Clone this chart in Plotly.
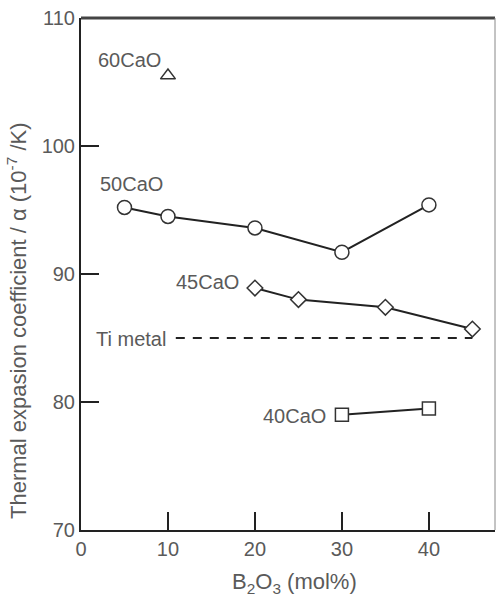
import plotly.graph_objects as go

# Data
cao60_x = [10]
cao60_y = [105.5]
cao50_x = [5, 10, 20, 30, 40]
cao50_y = [95.2, 94.5, 93.6, 91.7, 95.4]
cao45_x = [20, 25, 35, 45]
cao45_y = [88.9, 88.0, 87.4, 85.7]
cao40_x = [30, 40]
cao40_y = [79.0, 79.5]
ti_x = [10.9, 45]
ti_y = [85, 85]

x_ticks = [0, 10, 20, 30, 40]
y_ticks = [70, 80, 90, 100, 110]

FONT = "Liberation Sans, Arial, sans-serif"
TXT = "#5a5a5a"
LINE = "#222222"

fig = go.Figure()

fig.add_trace(go.Scatter(x=ti_x, y=ti_y, mode="lines",
                         line=dict(color=LINE, width=2, dash="9px,8px"),
                         showlegend=False, hoverinfo="skip"))

marker_line = dict(color="#333333", width=1.5)
fig.add_trace(go.Scatter(x=cao50_x, y=cao50_y, mode="lines+markers",
                         line=dict(color=LINE, width=2),
                         marker=dict(symbol="circle", size=14, color="white", line=marker_line),
                         showlegend=False))
fig.add_trace(go.Scatter(x=cao45_x, y=cao45_y, mode="lines+markers",
                         line=dict(color=LINE, width=2),
                         marker=dict(symbol="diamond", size=12, color="white", line=marker_line),
                         showlegend=False))
fig.add_trace(go.Scatter(x=cao40_x, y=cao40_y, mode="lines+markers",
                         line=dict(color=LINE, width=2),
                         marker=dict(symbol="square", size=13, color="white", line=marker_line),
                         showlegend=False))
fig.add_trace(go.Scatter(x=cao60_x, y=cao60_y, mode="markers",
                         marker=dict(symbol="triangle-up", size=13, color="white", line=marker_line),
                         showlegend=False))

labels = [
    ("60CaO", 5.6, 106.7),
    ("50CaO", 5.8, 97.0),
    ("45CaO", 14.6, 89.4),
    ("40CaO", 24.6, 78.9),
    ("Ti metal", 5.8, 84.9),
]
for t, x, y in labels:
    fig.add_annotation(x=x, y=y, text=t, showarrow=False, xanchor="center", yanchor="middle",
                       font=dict(family=FONT, size=20, color=TXT))

# axis titles
fig.add_annotation(xref="paper", yref="paper", x=(294 - 81) / 414, y=-(583 - 530) / 512,
                   xanchor="center", yanchor="middle",
                   text="B<sub>2</sub>O<sub>3</sub> (mol%)", showarrow=False,
                   font=dict(family=FONT, size=22, color=TXT))
fig.add_annotation(xref="paper", yref="paper", x=-(81 - 17) / 414, y=(530 - 321) / 512,
                   xanchor="center", yanchor="middle",
                   text="Thermal expasion coefficient / α (10<sup>-7</sup> /K)", showarrow=False,
                   textangle=-90, font=dict(family=FONT, size=22, color=TXT))

fig.update_xaxes(range=[0, 47.6], tickvals=x_ticks, ticks="inside", ticklen=18,
                 tickwidth=2, tickcolor=LINE, showline=True, linewidth=2, linecolor=LINE,
                 showgrid=False, zeroline=False, automargin=False,
                 tickfont=dict(family=FONT, size=20, color=TXT))
fig.update_yaxes(range=[70, 110], tickvals=y_ticks, ticks="inside", ticklen=18,
                 tickwidth=2, tickcolor=LINE, showline=True, linewidth=2, linecolor=LINE,
                 showgrid=False, zeroline=False, automargin=False,
                 tickfont=dict(family=FONT, size=20, color=TXT))

fig.add_shape(type="line", xref="paper", yref="paper", x0=0, x1=1, y0=1, y1=1,
              line=dict(color="#444444", width=3))
fig.add_shape(type="line", xref="paper", yref="paper", x0=1, x1=1, y0=0, y1=1,
              line=dict(color="#888888", width=1))

fig.update_layout(width=497, height=601, margin=dict(l=81, r=2, t=18, b=71),
                  plot_bgcolor="white", paper_bgcolor="white")

fig.write_html("out.html", config={"displayModeBar": False},
               post_script="document.body.style.margin='0';document.body.style.overflow='hidden';")
